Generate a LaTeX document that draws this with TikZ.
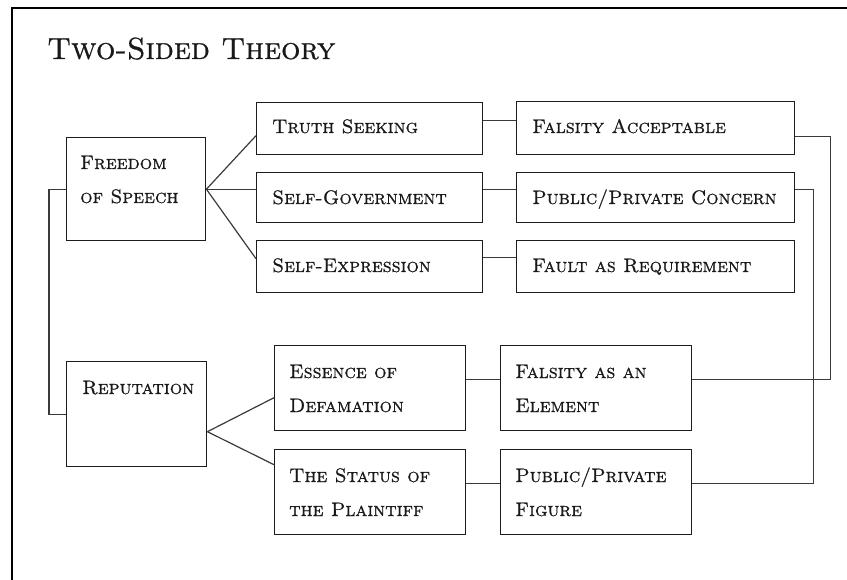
\documentclass[tikz,border=0pt]{standalone}
\usepackage{fontspec}
% Latin Modern caps face: its lower-case slots hold the small capitals
\newfontfamily\capsface{lmromancaps10-regular}[Extension=.otf, FakeBold=0.8]
\usetikzlibrary{calc}
\definecolor{boxline}{HTML}{1C1C1C}
\definecolor{linkline}{HTML}{3A3A3A}
\tikzset{
  box/.style={draw=boxline, line width=1.4pt, anchor=north west, inner sep=0pt},
  % the anchor sits on the baseline of the last line of the text
  lbl/.style={anchor=base west, inner sep=0pt, align=left, text=black!90,
    font=\capsface\fontsize{19.5}{34}\selectfont},
  link/.style={draw=linkline, line width=1.2pt},
  frame/.style={draw=black, line width=2pt},
}
\begin{document}
\begin{tikzpicture}[x=1pt,y=-1pt]
\useasboundingbox (0,0) rectangle (847,580);
% page frame (only its top and left edges fall inside the picture)
\draw[frame] (860,8) -- (12,8) -- (12,590);

% title
\node[anchor=base west, inner sep=0pt, text=black!90,
  font=\capsface\fontsize{30.5}{36}\selectfont]
  (title) at (47,59) {Two-Sided Theory};

% boxes
\node[box, minimum width=139, minimum height=103] (fos)     at (66,137)  {};
\node[box, minimum width=140, minimum height=105] (rep)     at (66,361)  {};
\node[box, minimum width=226, minimum height=52]  (truth)   at (256,102) {};
\node[box, minimum width=226, minimum height=50]  (selfgov) at (256,172) {};
\node[box, minimum width=226, minimum height=52]  (selfexp) at (256,240) {};
\node[box, minimum width=278, minimum height=53]  (falacc)  at (516,101) {};
\node[box, minimum width=278, minimum height=50]  (ppc)     at (516,172) {};
\node[box, minimum width=278, minimum height=52]  (fault)   at (516,240) {};
\node[box, minimum width=191, minimum height=85]  (ess)     at (274,345) {};
\node[box, minimum width=191, minimum height=85]  (status)  at (274,449) {};
\node[box, minimum width=191, minimum height=85]  (falel)   at (500,345) {};
\node[box, minimum width=191, minimum height=85]  (ppf)     at (500,449) {};

% box texts, set from each box's top-left corner
\node[lbl] (fos-t)     at ($(fos.north west)+(14,66)$)     {Freedom\\of Speech};
\node[lbl] (rep-t)     at ($(rep.north west)+(16,33)$)     {Reputation};
\node[lbl] (truth-t)   at ($(truth.north west)+(16,31)$)   {Truth Seeking};
\node[lbl] (selfgov-t) at ($(selfgov.north west)+(16,32)$) {Self-Government};
\node[lbl] (selfexp-t) at ($(selfexp.north west)+(16,32)$) {Self-Expression};
\node[lbl] (falacc-t)  at ($(falacc.north west)+(16,32)$)  {Falsity Acceptable};
\node[lbl] (ppc-t)     at ($(ppc.north west)+(16,32)$)     {Public/Private Concern};
\node[lbl] (fault-t)   at ($(fault.north west)+(16,32)$)   {Fault as Requirement};
\node[lbl] (ess-t)     at ($(ess.north west)+(15,67)$)     {Essence of\\Defamation};
\node[lbl] (status-t)  at ($(status.north west)+(15,67)$)  {The Status of\\the Plaintiff};
\node[lbl] (falel-t)   at ($(falel.north west)+(15,67)$)   {Falsity as an\\Element};
\node[lbl] (ppf-t)     at ($(ppf.north west)+(15,67)$)     {Public/Private\\Figure};

% freedom of speech fans out to its three values
\draw[link] (fos.east) -- ([yshift=-7pt]truth.west);
\draw[link] (fos.east) -- (fos.east -| selfgov.west);
\draw[link] (fos.east) -- ([yshift=8pt]selfexp.west);

% reputation fans out to its two elements
\coordinate (repout) at ([yshift=-17.5pt]rep.east);
\draw[link] (repout) -- ([yshift=-9.5pt]ess.west);
\draw[link] (repout) -- ([yshift=27.5pt]status.west);

% values to their consequences
\draw[link] ([yshift=8pt]truth.east)   -- ([yshift=7.5pt]falacc.west);
\draw[link] ([yshift=8pt]selfgov.east) -- ([yshift=8pt]ppc.west);
\draw[link] ([yshift=9pt]selfexp.east) -- ([yshift=9pt]fault.west);
\draw[link] ([yshift=8.5pt]ess.east)   -- ([yshift=8.5pt]falel.west);
\draw[link] ([yshift=8.5pt]status.east) -- ([yshift=8.5pt]ppf.west);

% the two sides joined on the left
\draw[link] (fos.west) -- ++(-17,0) |- (rep.west);

% consequences tied back to the elements on the right
\draw[link] ([yshift=-8.5pt]falacc.east) -- ++(35,0) |- ([yshift=8.5pt]falel.east);
\draw[link] ([yshift=8pt]ppc.east) -- ++(18,0) |- ([yshift=8.5pt]ppf.east);
\end{tikzpicture}
\end{document}
